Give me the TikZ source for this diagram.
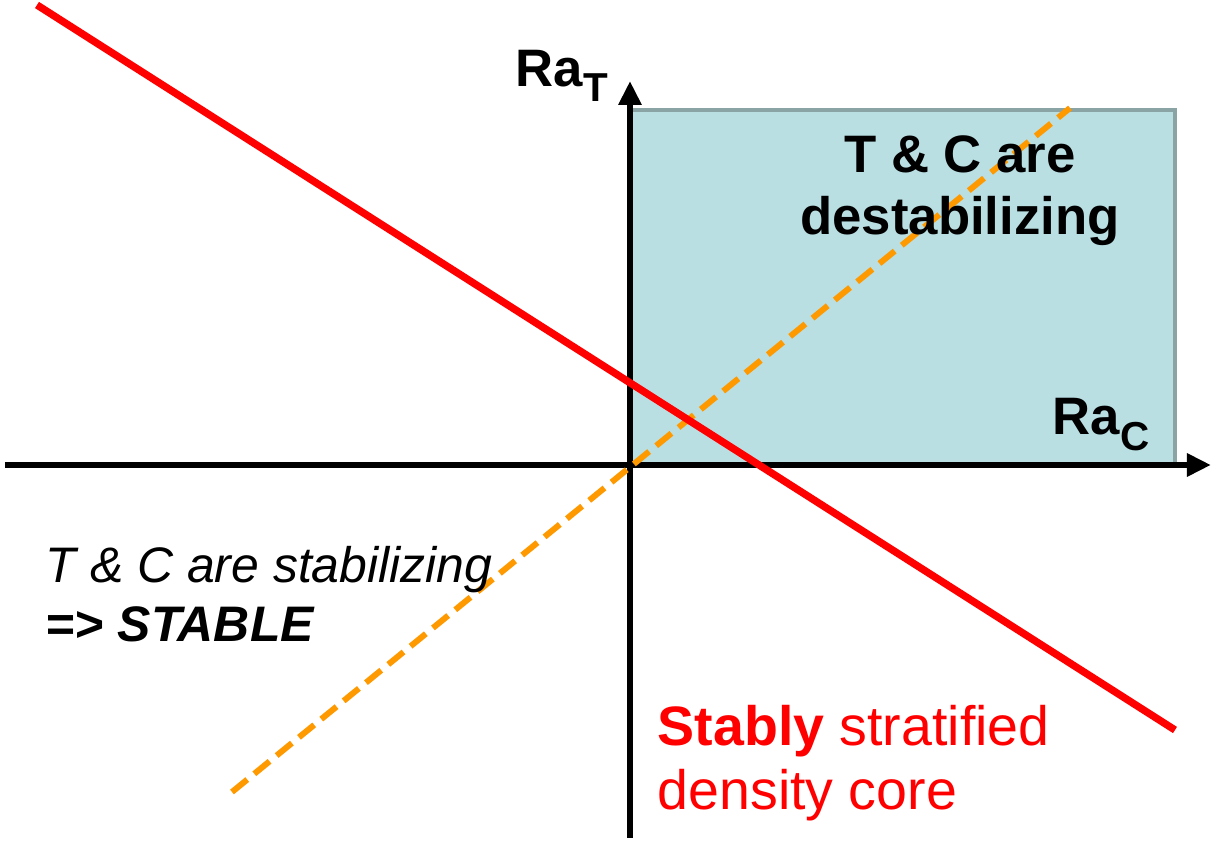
\documentclass[tikz,border=0pt]{standalone}
\usepackage{fontspec}
\setmainfont{Liberation Sans}
\usetikzlibrary{arrows.meta}

\definecolor{boxfill}{HTML}{B9DFE3}
\definecolor{boxedge}{HTML}{8AA3A5}
\definecolor{linered}{HTML}{FF0000}
\definecolor{lineorange}{HTML}{FF9900}

\begin{document}
\begin{tikzpicture}[>={Triangle[length=0.24cm,width=0.22cm]},
    axis/.style={line width=1.8pt},
    label/.style={inner sep=0pt, font=\fontsize{15}{18}\selectfont}]

    \useasboundingbox (-6.30,-3.78) rectangle (5.81,4.65);

    % main points (origin = crossing of the axes)
    \coordinate (O)  at (0,0);
    \coordinate (Q)  at (5.45,3.55);    % upper right corner of the region
    \coordinate (xL) at (-6.25,0);
    \coordinate (xR) at (5.81,0);
    \coordinate (yB) at (0,-3.73);
    \coordinate (yT) at (0,3.84);
    \coordinate (r1) at (-5.93,4.60);   % red line
    \coordinate (r2) at (5.45,-2.65);
    \coordinate (o1) at (-3.98,-3.27);  % dashed line
    \coordinate (o2) at (4.40,3.57);

    % 1. shaded region
    \draw[boxedge, fill=boxfill, line width=1.2pt] (O) rectangle (Q);

    % 2. axes
    \draw[axis, ->] (xL) -- (xR);
    \draw[axis, ->] (yB) -- (yT);

    % 3. lines
    \draw[lineorange, line width=1.7pt, dash pattern=on 5.6pt off 2.6pt] (o1) -- (o2);
    \draw[linered, line width=2.1pt] (r1) -- (r2);

    % 4. labels (base = last line)
    \node[label, anchor=base west] (raT) at (-1.15,3.78)
        {\textbf{Ra\raisebox{-4pt}{\fontsize{11.5}{12}\selectfont T}}};
    \node[label, anchor=base west] (raC) at (4.22,0.30)
        {\textbf{Ra\raisebox{-4.5pt}{\fontsize{11.5}{12}\selectfont C}}};
    \node[label, anchor=base, align=center, font=\fontsize{15}{17.9}\selectfont\bfseries] (destab) at (3.30,2.30)
        {T \& C are\\destabilizing};
    \node[label, anchor=base west, align=left, font=\fontsize{14.2}{16.8}\selectfont] (stab) at (-5.85,-1.77)
        {\textit{T \& C are stabilizing}\\\textbf{\textit{=> STABLE}}};
    \node[label, anchor=base west, align=left, text=linered, font=\fontsize{15.8}{18.4}\selectfont] (core) at (0.27,-3.45)
        {\textbf{Stably} stratified\\density core};

\end{tikzpicture}
\end{document}
